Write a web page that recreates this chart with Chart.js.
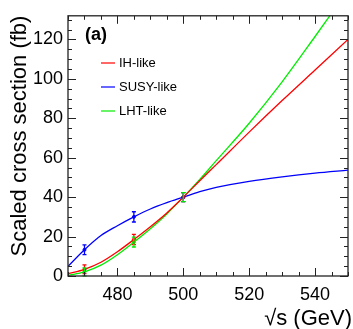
<!DOCTYPE html>
<html>
<head>
<meta charset="utf-8">
<script src="https://cdn.jsdelivr.net/npm/chart.js@4"></script>
<style>
	html, body { margin: 0; padding: 0; background: #fff; }
	#wrap { width: 353px; height: 329px; }
</style>
</head>
<body>
<div id="wrap"><canvas id="xsecChart" width="353" height="329"></canvas></div>
<script>
// curve samples (sqrt(s) in GeV, cross section in fb)
const xCurve    = [465, 470, 475, 480, 485, 490, 495, 500, 505, 510, 520, 530, 540, 550];
const ihCurve   = [1.2, 3.4, 7.0, 12.3, 18.5, 25.0, 32.0, 40.0, 48.3, 56.5, 73.0, 89.0, 104.5, 120.0];
const susyCurve = [4.9, 13.3, 20.5, 25.5, 30.0, 34.0, 37.2, 40.0, 42.8, 45.0, 48.0, 50.3, 52.2, 53.7];
const lhtCurve  = [0.3, 2.1, 5.5, 10.8, 17.2, 24.0, 31.5, 40.0, 49.0, 58.5, 77.5, 98.5, 121.5, 145.0];

// measured points with errors
const xMeas    = [470, 485, 500];
const ihMeas   = [3.4, 18.5, 40.0];
const ihErr    = [2.2, 2.6, 2.3];
const susyMeas = [13.3, 30.0, 40.0];
const susyErr  = [2.5, 2.6, 2.3];
const lhtMeas  = [2.1, 17.2, 40.0];
const lhtErr   = [2.0, 2.5, 2.3];

const seriesNames = ['IH-like', 'SUSY-like', 'LHT-like'];
const xTicks = [480, 500, 520, 540];
const yTicks = [0, 20, 40, 60, 80, 100, 120];

const colors = ['#ff0000', '#0000ff', '#00ee00'];
const FONT = '"Liberation Sans", Arial, Helvetica, sans-serif';

function pts(xs, ys) {
	return xs.map((x, i) => ({ x: x, y: ys[i] }));
}

const curveSets = [ihCurve, susyCurve, lhtCurve].map((ys, i) => ({
	label: seriesNames[i],
	data: pts(xCurve, ys),
	borderColor: colors[i],
	borderWidth: 1.3,
	pointRadius: 0,
	cubicInterpolationMode: 'monotone',
	fill: false
}));

const measSets = [[ihMeas, ihErr], [susyMeas, susyErr], [lhtMeas, lhtErr]].map((m, i) => ({
	label: seriesNames[i] + ' data',
	data: pts(xMeas, m[0]),
	errors: m[1],
	showLine: false,
	pointRadius: 1.5,
	pointBackgroundColor: colors[i],
	pointBorderColor: colors[i],
	borderColor: colors[i]
}));

const framePlugin = {
	id: 'frame',
	afterDatasetsDraw(chart) {
		const ctx = chart.ctx;
		const xs = chart.scales.x, ys = chart.scales.y;
		const a = chart.chartArea;

		// error bars
		measSets.forEach((ds, i) => {
			ctx.save();
			ctx.strokeStyle = colors[i];
			ctx.lineWidth = 1.3;
			ds.data.forEach((p, j) => {
				const px = xs.getPixelForValue(p.x);
				const lo = ys.getPixelForValue(p.y - ds.errors[j]);
				const hi = ys.getPixelForValue(p.y + ds.errors[j]);
				ctx.beginPath();
				ctx.moveTo(px, lo); ctx.lineTo(px, hi);
				ctx.moveTo(px - 2, lo); ctx.lineTo(px + 2, lo);
				ctx.moveTo(px - 2, hi); ctx.lineTo(px + 2, hi);
				ctx.stroke();
			});
			ctx.restore();
		});

		ctx.save();
		ctx.strokeStyle = '#222';
		ctx.lineWidth = 1.3;
		ctx.strokeRect(a.left, a.top, a.right - a.left, a.bottom - a.top);

		// inward ticks, major every 20, minor every 5
		ctx.lineWidth = 1;
		ctx.beginPath();
		for (let v = 465; v <= 550; v += 5) {
			const px = Math.round(xs.getPixelForValue(v)) + 0.5;
			const len = v % 20 === 0 ? 8 : 4;
			ctx.moveTo(px, a.bottom); ctx.lineTo(px, a.bottom - len);
			ctx.moveTo(px, a.top); ctx.lineTo(px, a.top + len);
		}
		for (let v = 0; v <= 130; v += 5) {
			const py = Math.round(ys.getPixelForValue(v)) + 0.5;
			const len = v % 20 === 0 ? 8 : 4;
			ctx.moveTo(a.left, py); ctx.lineTo(a.left + len, py);
			ctx.moveTo(a.right, py); ctx.lineTo(a.right - len, py);
		}
		ctx.stroke();

		// legend
		ctx.font = '13px ' + FONT;
		ctx.textBaseline = 'middle';
		ctx.fillStyle = '#000';
		seriesNames.forEach((name, i) => {
			const y = 63 + i * 24;
			ctx.strokeStyle = colors[i];
			ctx.lineWidth = 1.2;
			ctx.beginPath();
			ctx.moveTo(101, y); ctx.lineTo(115, y);
			ctx.stroke();
			ctx.fillText(name, 119, y);
		});

		ctx.font = 'bold 18px ' + FONT;
		ctx.fillText('(a)', 85, 35);

		// axis titles
		ctx.font = '22px ' + FONT;
		ctx.textAlign = 'right';
		ctx.textBaseline = 'alphabetic';
		ctx.fillText('\u221As (GeV)', 352, 325);

		ctx.translate(26, 136);
		ctx.rotate(-Math.PI / 2);
		ctx.textAlign = 'center';
		ctx.fillText('Scaled cross section (fb)', 0, 0);
		ctx.restore();
	}
};

new Chart(document.getElementById('xsecChart').getContext('2d'), {
	type: 'line',
	data: { datasets: curveSets.concat(measSets) },
	options: {
		responsive: false,
		animation: false,
		layout: { padding: { top: 8, right: 1, left: 0, bottom: 0 } },
		plugins: {
			legend: { display: false },
			tooltip: { enabled: false }
		},
		scales: {
			x: {
				type: 'linear',
				min: 465,
				max: 550,
				grid: { display: false, drawTicks: false },
				border: { display: false },
				afterBuildTicks: s => { s.ticks = xTicks.map(v => ({ value: v })); },
				afterFit: s => { s.height = 53; },
				ticks: {
					padding: 8,
					maxRotation: 0,
					color: '#000',
					font: { family: FONT, size: 18 }
				}
			},
			y: {
				min: 0,
				max: 132,
				grid: { display: false, drawTicks: false },
				border: { display: false },
				afterBuildTicks: s => { s.ticks = yTicks.map(v => ({ value: v })); },
				afterFit: s => { s.width = 68; },
				ticks: {
					padding: 5,
					color: '#000',
					font: { family: FONT, size: 18 }
				}
			}
		}
	},
	plugins: [framePlugin]
});
</script>
</body>
</html>
